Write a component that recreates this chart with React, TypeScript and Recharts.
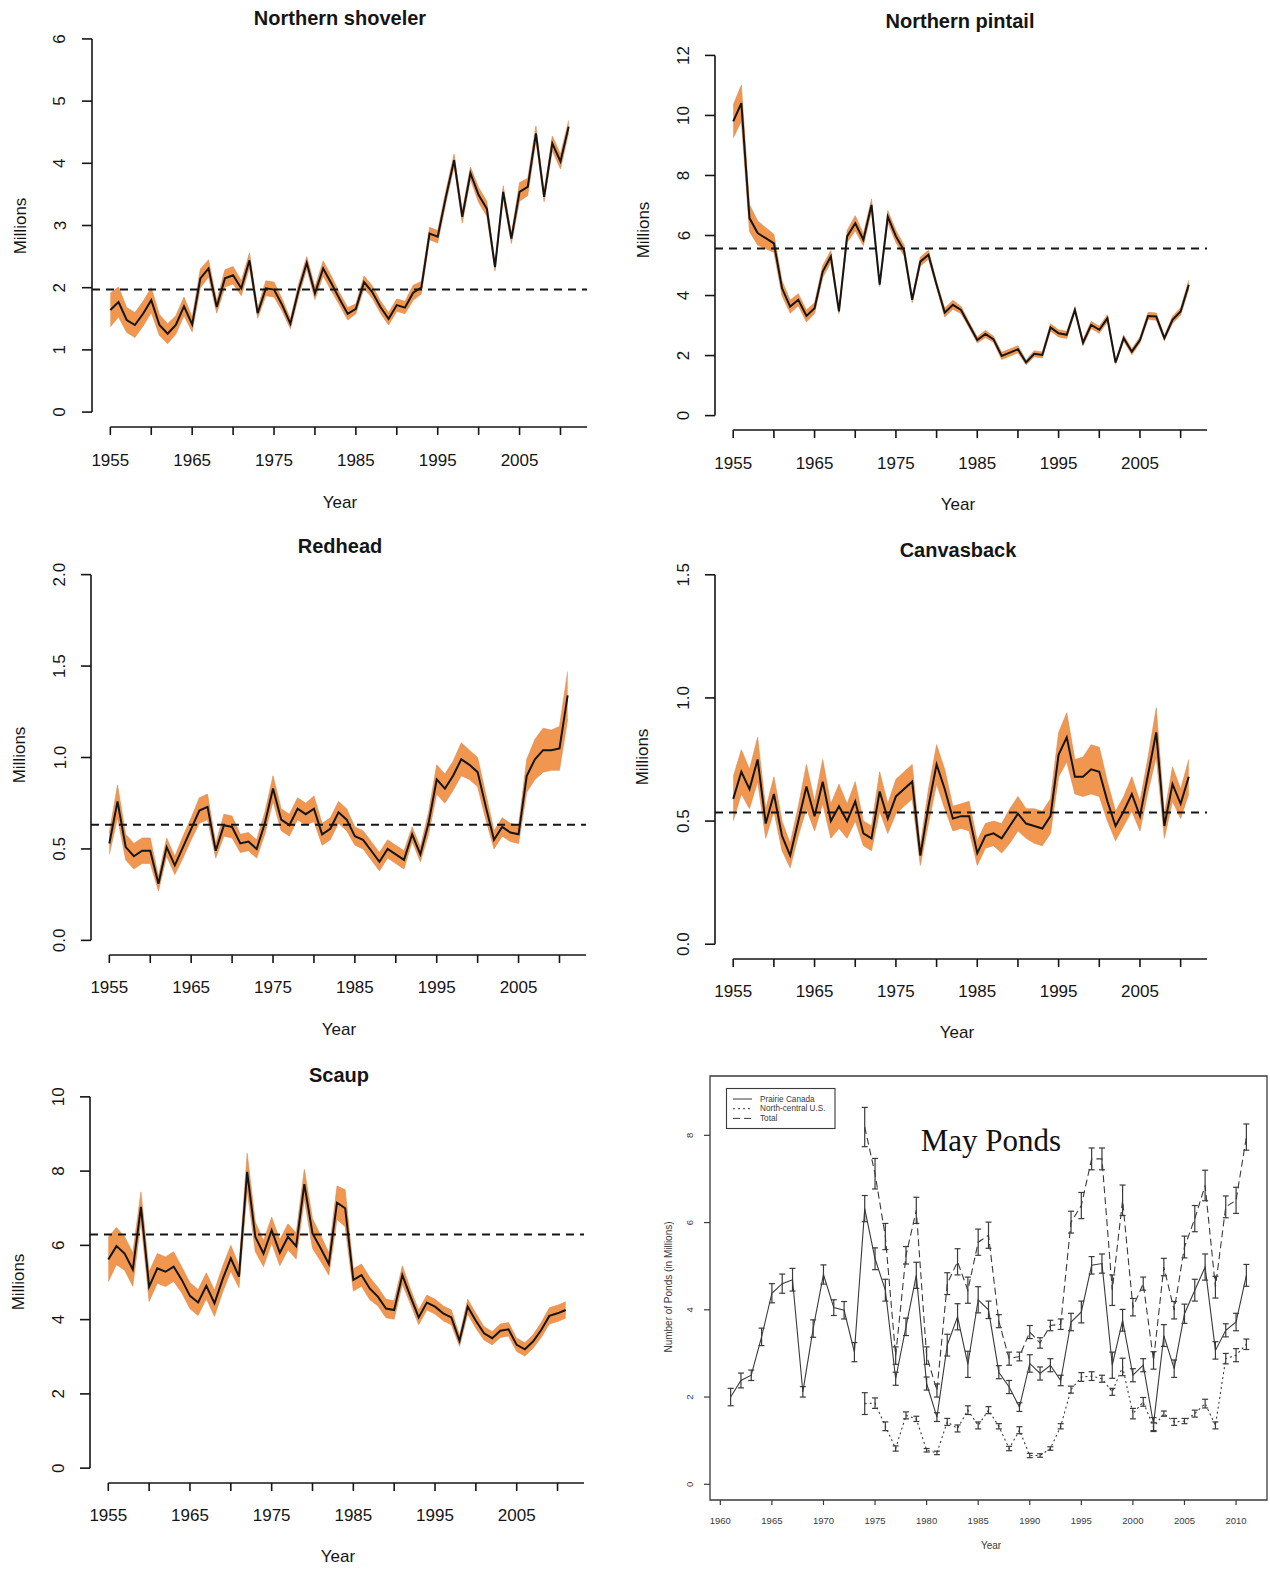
import React from "react";
import {
  ComposedChart, Area, Line, XAxis, YAxis, ReferenceLine, ReferenceArea, ErrorBar,
} from "recharts";

const PAGE_W = 1270;
const PAGE_H = 1569;
const AX = 40; // room reserved for each axis inside the chart margins
const SANS = "'Liberation Sans', Arial, Helvetica, sans-serif";
const SERIF = "'Liberation Serif', 'Times New Roman', serif";
const INK = "#151515";
const BAND = "#F0964F";
const POND_INK = "#3a3a3a";

// ─── Duck survey data (millions, 1955–2011) ─────────────────────
const surveyYears = Array.from({ length: 57 }, (_, i) => 1955 + i);
const duckYearTicks = [1955, 1960, 1965, 1970, 1975, 1980, 1985, 1990, 1995, 2000, 2005, 2010];
const duckYearLabels = [1955, 1965, 1975, 1985, 1995, 2005];

const shovelerEst = [
  1.64, 1.77, 1.48, 1.40, 1.58, 1.80, 1.40, 1.26, 1.40, 1.70,
  1.41, 2.15, 2.31, 1.69, 2.15, 2.20, 1.99, 2.44, 1.59, 1.99,
  1.97, 1.72, 1.42, 1.96, 2.40, 1.91, 2.31, 2.07, 1.82, 1.58,
  1.66, 2.09, 1.93, 1.69, 1.50, 1.72, 1.68, 1.92, 2.00, 2.87,
  2.82, 3.46, 4.05, 3.14, 3.84, 3.49, 3.27, 2.33, 3.54, 2.79,
  3.54, 3.62, 4.48, 3.46, 4.32, 4.03, 4.59,
];
const shovelerHalf = [
  0.27, 0.24, 0.2, 0.2, 0.2, 0.2, 0.17, 0.16, 0.15, 0.15,
  0.12, 0.15, 0.14, 0.1, 0.14, 0.14, 0.12, 0.12, 0.08, 0.12,
  0.12, 0.1, 0.08, 0.1, 0.1, 0.1, 0.12, 0.12, 0.1, 0.1,
  0.08, 0.1, 0.1, 0.1, 0.1, 0.1, 0.1, 0.12, 0.1, 0.1,
  0.1, 0.1, 0.1, 0.1, 0.1, 0.12, 0.12, 0.06, 0.1, 0.08,
  0.15, 0.14, 0.12, 0.08, 0.12, 0.12, 0.1,
];

const pintailEst = [
  9.80, 10.41, 6.58, 6.08, 5.91, 5.74, 4.24, 3.63, 3.86, 3.32,
  3.58, 4.80, 5.30, 3.47, 5.97, 6.41, 5.86, 7.02, 4.36, 6.63,
  5.97, 5.50, 3.86, 5.13, 5.36, 4.36, 3.43, 3.69, 3.52, 3.02,
  2.52, 2.72, 2.54, 1.99, 2.10, 2.21, 1.77, 2.06, 2.02, 2.94,
  2.74, 2.69, 3.52, 2.43, 3.02, 2.86, 3.24, 1.77, 2.58, 2.13,
  2.52, 3.32, 3.30, 2.58, 3.19, 3.47, 4.36,
];
const pintailHalf = [
  0.55, 0.6, 0.45, 0.4, 0.35, 0.3, 0.25, 0.22, 0.2, 0.2,
  0.18, 0.2, 0.2, 0.08, 0.2, 0.25, 0.2, 0.2, 0.06, 0.2,
  0.2, 0.18, 0.1, 0.15, 0.15, 0.1, 0.15, 0.15, 0.12, 0.1,
  0.1, 0.12, 0.1, 0.12, 0.12, 0.12, 0.08, 0.1, 0.1, 0.12,
  0.12, 0.12, 0.08, 0.1, 0.12, 0.12, 0.12, 0.06, 0.1, 0.1,
  0.1, 0.12, 0.12, 0.08, 0.12, 0.12, 0.15,
];

const redheadEst = [
  0.53, 0.76, 0.51, 0.46, 0.49, 0.49, 0.31, 0.51, 0.41, 0.51,
  0.61, 0.71, 0.73, 0.49, 0.63, 0.62, 0.53, 0.54, 0.50, 0.64,
  0.83, 0.66, 0.63, 0.72, 0.69, 0.72, 0.58, 0.61, 0.70, 0.66,
  0.57, 0.55, 0.49, 0.43, 0.50, 0.47, 0.44, 0.58, 0.47, 0.64,
  0.88, 0.83, 0.90, 0.99, 0.96, 0.92, 0.73, 0.55, 0.62, 0.59,
  0.58, 0.90, 0.99, 1.04, 1.04, 1.05, 1.34,
];
const redheadHalf = [
  0.06, 0.09, 0.07, 0.07, 0.07, 0.07, 0.04, 0.05, 0.05, 0.06,
  0.06, 0.07, 0.07, 0.04, 0.06, 0.06, 0.05, 0.05, 0.05, 0.06,
  0.07, 0.06, 0.06, 0.06, 0.06, 0.07, 0.06, 0.06, 0.06, 0.06,
  0.05, 0.05, 0.05, 0.05, 0.05, 0.05, 0.05, 0.04, 0.04, 0.06,
  0.08, 0.08, 0.08, 0.09, 0.08, 0.08, 0.07, 0.05, 0.05, 0.05,
  0.05, 0.09, 0.11, 0.12, 0.11, 0.12, 0.13,
];

const canvasbackEst = [
  0.59, 0.70, 0.63, 0.75, 0.49, 0.61, 0.44, 0.36, 0.50, 0.64,
  0.52, 0.66, 0.50, 0.56, 0.50, 0.58, 0.45, 0.43, 0.62, 0.51,
  0.60, 0.63, 0.66, 0.36, 0.56, 0.73, 0.63, 0.51, 0.52, 0.52,
  0.37, 0.44, 0.45, 0.43, 0.48, 0.53, 0.49, 0.48, 0.47, 0.52,
  0.77, 0.84, 0.68, 0.68, 0.71, 0.70, 0.58, 0.48, 0.54, 0.61,
  0.52, 0.69, 0.86, 0.48, 0.65, 0.57, 0.68,
];
const canvasbackHalf = [
  0.09, 0.09, 0.08, 0.09, 0.06, 0.07, 0.06, 0.05, 0.06, 0.09,
  0.06, 0.09, 0.07, 0.09, 0.07, 0.08, 0.05, 0.05, 0.08, 0.06,
  0.07, 0.07, 0.07, 0.04, 0.07, 0.08, 0.08, 0.05, 0.05, 0.06,
  0.05, 0.05, 0.05, 0.06, 0.07, 0.07, 0.06, 0.07, 0.07, 0.07,
  0.09, 0.1, 0.07, 0.08, 0.1, 0.1, 0.08, 0.06, 0.06, 0.07,
  0.06, 0.07, 0.1, 0.05, 0.07, 0.06, 0.07,
];

const scaupEst = [
  5.62, 5.98, 5.78, 5.35, 7.04, 4.89, 5.38, 5.29, 5.43, 5.07,
  4.64, 4.46, 4.91, 4.44, 5.09, 5.65, 5.16, 7.98, 6.23, 5.78,
  6.41, 5.80, 6.23, 5.98, 7.65, 6.32, 5.92, 5.50, 7.15, 7.00,
  5.07, 5.20, 4.84, 4.62, 4.30, 4.26, 5.20, 4.62, 4.06, 4.46,
  4.35, 4.17, 4.06, 3.43, 4.35, 3.97, 3.63, 3.50, 3.70, 3.74,
  3.32, 3.20, 3.41, 3.72, 4.10, 4.17, 4.26,
];
const scaupHalf = [
  0.6, 0.5, 0.45, 0.45, 0.4, 0.4, 0.4, 0.4, 0.4, 0.35,
  0.35, 0.35, 0.35, 0.35, 0.35, 0.35, 0.3, 0.5, 0.4, 0.35,
  0.35, 0.35, 0.35, 0.35, 0.4, 0.4, 0.35, 0.3, 0.45, 0.5,
  0.3, 0.3, 0.3, 0.25, 0.25, 0.25, 0.25, 0.2, 0.2, 0.2,
  0.2, 0.2, 0.2, 0.15, 0.2, 0.2, 0.18, 0.18, 0.18, 0.18,
  0.18, 0.18, 0.18, 0.2, 0.22, 0.22, 0.22,
];

// ─── May ponds data (millions) ───────────────────────────────────
const prairieYears = Array.from({ length: 51 }, (_, i) => 1961 + i);
const usYears = Array.from({ length: 38 }, (_, i) => 1974 + i);
const pondYearTicks = [1960, 1965, 1970, 1975, 1980, 1985, 1990, 1995, 2000, 2005, 2010];
const pondTicks = [0, 2, 4, 6, 8];

const prairieCanada = [
  2.00, 2.38, 2.50, 3.38, 4.38, 4.60, 4.69, 2.12, 3.57, 4.81,
  4.05, 3.99, 3.03, 6.32, 5.17, 4.45, 2.42, 3.61, 4.79, 2.31,
  1.54, 3.19, 3.84, 2.75, 4.23, 4.00, 2.57, 2.23, 1.77, 2.77,
  2.54, 2.73, 2.38, 3.72, 3.95, 5.02, 5.06, 2.73, 3.76, 2.50,
  2.73, 1.38, 3.41, 2.65, 3.91, 4.45, 4.98, 3.07, 3.53, 3.72,
  4.79,
];
const prairieCanadaErr = [
  0.2, 0.17, 0.12, 0.2, 0.22, 0.22, 0.26, 0.12, 0.2, 0.22,
  0.18, 0.2, 0.22, 0.3, 0.25, 0.25, 0.15, 0.2, 0.3, 0.15,
  0.1, 0.25, 0.3, 0.3, 0.3, 0.2, 0.15, 0.15, 0.1, 0.2,
  0.15, 0.15, 0.12, 0.2, 0.25, 0.2, 0.22, 0.3, 0.25, 0.15,
  0.15, 0.15, 0.25, 0.2, 0.22, 0.25, 0.3, 0.2, 0.15, 0.2,
  0.25,
];
const northCentralUS = [
  1.85, 1.86, 1.33, 0.82, 1.58, 1.50,
  0.78, 0.72, 1.43, 1.28, 1.70, 1.35, 1.70, 1.33, 0.82, 1.24,
  0.66, 0.66, 0.82, 1.33, 2.17, 2.46, 2.48, 2.42, 2.12, 2.69,
  1.62, 1.89, 1.31, 1.62, 1.43, 1.45, 1.62, 1.85, 1.35, 2.88,
  2.96, 3.21,
];
const northCentralUSErr = [
  0.25, 0.12, 0.1, 0.06, 0.08, 0.06,
  0.04, 0.04, 0.08, 0.08, 0.1, 0.08, 0.08, 0.06, 0.05, 0.08,
  0.05, 0.04, 0.04, 0.06, 0.08, 0.1, 0.1, 0.08, 0.08, 0.2,
  0.12, 0.1, 0.1, 0.06, 0.08, 0.06, 0.08, 0.1, 0.08, 0.12,
  0.15, 0.12,
];
const totalPonds = [
  8.19, 7.12, 5.68, 2.95, 5.25, 6.28,
  2.95, 2.15, 4.60, 5.10, 4.45, 5.55, 5.71, 3.74, 2.88, 2.93,
  3.49, 3.24, 3.64, 3.67, 6.01, 6.39, 7.46, 7.46, 4.45, 6.51,
  4.06, 4.60, 2.84, 4.98, 3.99, 5.44, 6.09, 6.85, 4.52, 6.36,
  6.51, 7.96,
];
const totalPondsErr = [
  0.45, 0.35, 0.3, 0.2, 0.2, 0.3,
  0.2, 0.15, 0.25, 0.3, 0.3, 0.3, 0.3, 0.15, 0.15, 0.1,
  0.15, 0.12, 0.12, 0.12, 0.25, 0.3, 0.25, 0.25, 0.35, 0.35,
  0.2, 0.15, 0.2, 0.2, 0.2, 0.25, 0.3, 0.35, 0.25, 0.25,
  0.3, 0.3,
];

// ─── Panel layout (page pixels) ──────────────────────────────────
type Box = { l: number; r: number; t: number; b: number };
type DuckPanel = {
  title: string; est: number[]; half: number[]; avg: number;
  yMax: number; yTicks: number[]; yFmt: (v: number) => string;
  box: Box; xLabelY: number; yLabelX: number;
  titleAt: [number, number]; yearAt: [number, number]; millionsAt: [number, number];
};

const intFmt = (v: number) => String(v);
const oneDp = (v: number) => v.toFixed(1);

const duckPanels: DuckPanel[] = [
  {
    title: "Northern shoveler", est: shovelerEst, half: shovelerHalf, avg: 1.97,
    yMax: 6, yTicks: [0, 1, 2, 3, 4, 5, 6], yFmt: intFmt,
    box: { l: 92, r: 587, t: 24, b: 427 }, xLabelY: 460, yLabelX: 60,
    titleAt: [340, 18], yearAt: [340, 502], millionsAt: [20, 226],
  },
  {
    title: "Northern pintail", est: pintailEst, half: pintailHalf, avg: 5.57,
    yMax: 12, yTicks: [0, 2, 4, 6, 8, 10, 12], yFmt: intFmt,
    box: { l: 715, r: 1207, t: 41, b: 430 }, xLabelY: 463, yLabelX: 684,
    titleAt: [960, 21], yearAt: [958, 504], millionsAt: [643, 230],
  },
  {
    title: "Redhead", est: redheadEst, half: redheadHalf, avg: 0.632,
    yMax: 2, yTicks: [0, 0.5, 1, 1.5, 2], yFmt: oneDp,
    box: { l: 91, r: 586, t: 560, b: 955 }, xLabelY: 987, yLabelX: 60,
    titleAt: [340, 546], yearAt: [339, 1029], millionsAt: [19, 755],
  },
  {
    title: "Canvasback", est: canvasbackEst, half: canvasbackHalf, avg: 0.535,
    yMax: 1.5, yTicks: [0, 0.5, 1, 1.5], yFmt: oneDp,
    box: { l: 715, r: 1207, t: 560, b: 959 }, xLabelY: 991, yLabelX: 684,
    titleAt: [958, 550], yearAt: [957, 1032], millionsAt: [642, 757],
  },
  {
    title: "Scaup", est: scaupEst, half: scaupHalf, avg: 6.29,
    yMax: 10, yTicks: [0, 2, 4, 6, 8, 10], yFmt: intFmt,
    box: { l: 90, r: 584, t: 1082, b: 1483 }, xLabelY: 1515, yLabelX: 59,
    titleAt: [339, 1075], yearAt: [338, 1556], millionsAt: [18, 1282],
  },
];

const pondBox: Box = { l: 710, r: 1267, t: 1076, b: 1500 };

const pondSeries = [
  { name: "Prairie Canada", years: prairieYears, values: prairieCanada, err: prairieCanadaErr, dash: undefined as string | undefined },
  { name: "North-central U.S.", years: usYears, values: northCentralUS, err: northCentralUSErr, dash: "2 3" },
  { name: "Total", years: usYears, values: totalPonds, err: totalPondsErr, dash: "7 4" },
];

const full = { position: "absolute" as const, left: 0, top: 0 };
const marginFor = (b: Box) => ({
  top: b.t, right: PAGE_W - b.r, bottom: PAGE_H - b.b - AX, left: b.l - AX,
});

function DuckChart({ p }: { p: DuckPanel }) {
  const rows = surveyYears.map((year, i) => ({
    year,
    est: p.est[i],
    band: [p.est[i] - p.half[i], p.est[i] + p.half[i]],
  }));
  const pad = p.yMax * 0.04;
  const xLo = 1955 - 2.24;
  const xHi = 2011 + 2.24;
  return (
    <div style={full}>
      <ComposedChart width={PAGE_W} height={PAGE_H} data={rows} margin={marginFor(p.box)}>
        <XAxis
          dataKey="year" type="number" domain={[xLo, xHi]} ticks={duckYearTicks} interval={0}
          allowDataOverflow height={AX} axisLine={false} tickSize={8} tickMargin={0}
          stroke={INK} tickLine={{ stroke: INK, strokeWidth: 1.6 }}
          tick={(t: any) => (
            <text x={t.x} y={p.xLabelY} textAnchor="middle" dominantBaseline="central"
              fontSize={17} fontFamily={SANS} fill={INK}>
              {duckYearLabels.includes(t.payload.value) ? t.payload.value : ""}
            </text>
          )}
        />
        <YAxis
          type="number" domain={[-pad, p.yMax + pad]} ticks={p.yTicks} interval={0}
          allowDataOverflow width={AX} axisLine={false} tickSize={10} tickMargin={0}
          stroke={INK} tickLine={{ stroke: INK, strokeWidth: 1.6 }}
          tick={(t: any) => (
            <text x={p.yLabelX} y={t.y} textAnchor="middle" dominantBaseline="central"
              transform={`rotate(-90 ${p.yLabelX} ${t.y})`}
              fontSize={17} fontFamily={SANS} fill={INK}>
              {p.yFmt(t.payload.value)}
            </text>
          )}
        />
        <Area
          dataKey="band" type="linear" fill={BAND} fillOpacity={1}
          stroke="#D98C5A" strokeWidth={0.6} isAnimationActive={false}
        />
        <Line
          dataKey="est" type="linear" stroke={INK} strokeWidth={2}
          dot={false} isAnimationActive={false}
        />
        <ReferenceLine y={p.avg} stroke={INK} strokeWidth={2} strokeDasharray="8 6" />
        <ReferenceLine
          segment={[{ x: xLo, y: 0 }, { x: xLo, y: p.yMax }]}
          stroke={INK} strokeWidth={1.6} ifOverflow="visible"
        />
        <ReferenceLine
          segment={[{ x: 1955, y: -pad }, { x: xHi, y: -pad }]}
          stroke={INK} strokeWidth={1.6} ifOverflow="visible"
        />
      </ComposedChart>
    </div>
  );
}

function PondChart() {
  return (
    <div style={full}>
      <ComposedChart width={PAGE_W} height={PAGE_H} margin={marginFor(pondBox)}>
        <XAxis
          dataKey="year" type="number" domain={[1959, 2013]} ticks={pondYearTicks} interval={0}
          allowDataOverflow height={AX} axisLine={false} tickSize={5} tickMargin={0}
          stroke={POND_INK} tickLine={{ stroke: POND_INK, strokeWidth: 1.2 }}
          tick={(t: any) => (
            <text x={t.x} y={1520} textAnchor="middle" dominantBaseline="central"
              fontSize={9.5} fontFamily={SANS} fill={POND_INK}>
              {t.payload.value}
            </text>
          )}
        />
        <YAxis
          type="number" domain={[-0.36, 9.36]} ticks={pondTicks} interval={0}
          allowDataOverflow width={AX} axisLine={false} tickSize={6} tickMargin={0}
          stroke={POND_INK} tickLine={{ stroke: POND_INK, strokeWidth: 1.2 }}
          tick={(t: any) => (
            <text x={690} y={t.y} textAnchor="middle" dominantBaseline="central"
              transform={`rotate(-90 690 ${t.y})`}
              fontSize={9.5} fontFamily={SANS} fill={POND_INK}>
              {t.payload.value}
            </text>
          )}
        />
        <ReferenceArea
          x1={1959} x2={2013} y1={-0.36} y2={9.36}
          fill="#ffffff" fillOpacity={0} stroke={POND_INK} strokeWidth={1.3} ifOverflow="visible"
        />
        {pondSeries.map((s) => (
          <Line
            key={s.name}
            data={s.years.map((year, i) => ({ year, v: s.values[i], e: s.err[i] }))}
            dataKey="v" type="linear" stroke={POND_INK} strokeWidth={1.1}
            strokeDasharray={s.dash} dot={false} isAnimationActive={false}
          >
            <ErrorBar dataKey="e" direction="y" width={3} stroke={POND_INK} strokeWidth={1.2} />
          </Line>
        ))}
      </ComposedChart>
    </div>
  );
}

function Labels() {
  const sans = { fontFamily: SANS, fill: INK };
  return (
    <svg width={PAGE_W} height={PAGE_H} style={{ ...full, pointerEvents: "none" }}>
      {duckPanels.map((p) => (
        <g key={p.title}>
          <text x={p.titleAt[0]} y={p.titleAt[1]} textAnchor="middle" dominantBaseline="central"
            fontSize={20} fontWeight={700} {...sans}>{p.title}</text>
          <text x={p.yearAt[0]} y={p.yearAt[1]} textAnchor="middle" dominantBaseline="central"
            fontSize={17} {...sans}>Year</text>
          <text x={p.millionsAt[0]} y={p.millionsAt[1]} textAnchor="middle" dominantBaseline="central"
            transform={`rotate(-90 ${p.millionsAt[0]} ${p.millionsAt[1]})`}
            fontSize={17} {...sans}>Millions</text>
        </g>
      ))}
      {/* ponds panel text */}
      <text x={991} y={1545} textAnchor="middle" dominantBaseline="central"
        fontSize={10} fontFamily={SANS} fill={POND_INK}>Year</text>
      <text x={668} y={1287} textAnchor="middle" dominantBaseline="central"
        transform="rotate(-90 668 1287)" fontSize={10} fontFamily={SANS} fill={POND_INK}>
        Number of Ponds (in Millions)
      </text>
      <text x={991} y={1151} textAnchor="middle" fontSize={31} fontFamily={SERIF} fill="#111">
        May Ponds
      </text>
      <rect x={726.5} y={1088.5} width={108.5} height={40} fill="#fff" stroke={POND_INK} strokeWidth={1.1} />
      {pondSeries.map((s, i) => (
        <g key={s.name}>
          <line x1={733} x2={752} y1={1099 + i * 9.7} y2={1099 + i * 9.7}
            stroke={POND_INK} strokeWidth={1} strokeDasharray={s.dash} />
          <text x={760} y={1099 + i * 9.7} dominantBaseline="central"
            fontSize={8.2} fontFamily={SANS} fill={POND_INK}>{s.name}</text>
        </g>
      ))}
    </svg>
  );
}

export default function App() {
  return (
    <div style={{ ...full, width: PAGE_W, height: PAGE_H, background: "#fff" }}>
      {duckPanels.map((p) => (
        <DuckChart key={p.title} p={p} />
      ))}
      <PondChart />
      <Labels />
    </div>
  );
}
